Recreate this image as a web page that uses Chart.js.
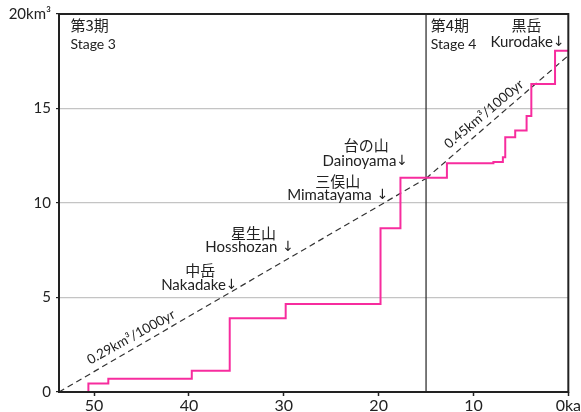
<!DOCTYPE html>
<html>
<head>
<meta charset="utf-8">
<script src="https://cdn.jsdelivr.net/npm/chart.js@4.4.1/dist/chart.umd.min.js"></script>
<style>
html, body { margin: 0; padding: 0; background: #fff; }
</style>
</head>
<body>
<canvas id="graphic" width="581" height="412"></canvas>
<script>
// cumulative erupted volume (km3) against age (ka)
const eruptionAges = [50.6, 50.6, 48.5, 39.7, 35.7, 29.8, 19.8, 17.7, 12.8, 7.9, 6.9, 6.65, 5.6, 4.4, 3.9, 1.4, 0];
const cumulativeVolume = [0, 0.45, 0.7, 1.13, 3.9, 4.66, 8.66, 11.34, 12.1, 12.17, 12.42, 13.48, 13.83, 14.6, 16.3, 18.06, 18.06];

// eruption rate lines
const stage3RateAges = [53.7, 15];
const stage3RateVolume = [0, 11.3];
const stage4RateAges = [15, 0];
const stage4RateVolume = [11.3, 17.8];

const stageBoundaryAge = 15;

const xTickValues = [50, 40, 30, 20, 10, 0];
const xTickLabels = ['50', '40', '30', '20', '10', '0ka'];
const yTickValues = [0, 5, 10, 15, 20];
const yTickLabels = ['0', '5', '10', '15', '20km³'];

const toPoints = (xs, ys) => xs.map((v, i) => ({ x: v, y: ys[i] }));

const jpFont = '15px "Noto Sans CJK JP"';
const enFont = '15px Lato';
const stageFont = '14px Lato';
const rateFont = '13.5px Lato';
const arrowFont = '14px "DejaVu Sans"';

/* texts placed in data coordinates (age, volume); arrow: gap before the ↓ */
const notes = [
  { text: '第3期', x: 52.5, y: 19.4, align: 'left', font: jpFont },
  { text: 'Stage 3', x: 52.5, y: 18.4, align: 'left', font: stageFont },
  { text: '第4期', x: 14.5, y: 19.4, align: 'left', font: jpFont },
  { text: 'Stage 4', x: 14.5, y: 18.4, align: 'left', font: stageFont },
  { text: '黒岳', x: 4.4, y: 19.4, align: 'center', font: jpFont },
  { text: 'Kurodake', x: 4.3, y: 18.5, align: 'center', font: enFont, arrow: 0 },
  { text: '台の山', x: 21.3, y: 13.07, align: 'center', font: jpFont },
  { text: 'Dainoyama', x: 21.4, y: 12.2, align: 'center', font: enFont, arrow: 0 },
  { text: '三俣山', x: 24.3, y: 11.16, align: 'center', font: jpFont },
  { text: 'Mimatayama', x: 24.3, y: 10.4, align: 'center', font: enFont, arrow: 5 },
  { text: '星生山', x: 33.2, y: 8.4, align: 'center', font: jpFont },
  { text: 'Hosshozan', x: 33.6, y: 7.67, align: 'center', font: enFont, arrow: 5 },
  { text: '中岳', x: 38.8, y: 6.46, align: 'center', font: jpFont },
  { text: 'Nakadake', x: 38.9, y: 5.66, align: 'center', font: enFont, arrow: 0 },
  { text: '0.29km³/1000yr', x: 46.1, y: 2.9, align: 'center', font: rateFont, rot: -29 },
  { text: '0.45km³/1000yr', x: 8.9, y: 14.7, align: 'center', font: rateFont, rot: -40 }
];

const overlay = {
  id: 'overlay',
  afterDatasetsDraw(chart) {
    const { ctx, chartArea: a, scales } = chart;
    ctx.save();
    ctx.strokeStyle = '#222';
    ctx.lineWidth = 2;
    ctx.strokeRect(a.left, a.top, a.right - a.left, a.bottom - a.top);
    ctx.fillStyle = '#222';
    ctx.textBaseline = 'middle';
    notes.forEach(n => {
      const px = scales.x.getPixelForValue(n.x);
      const py = scales.y.getPixelForValue(n.y);
      ctx.save();
      ctx.translate(px, py);
      if (n.rot) ctx.rotate(n.rot * Math.PI / 180);
      ctx.font = n.font;
      if (n.arrow === undefined) {
        ctx.textAlign = n.align;
        ctx.fillText(n.text, 0, 0);
      } else {
        const tw = ctx.measureText(n.text).width;
        ctx.font = arrowFont;
        const aw = ctx.measureText('↓').width;
        const start = -(tw + n.arrow + aw) / 2;
        ctx.textAlign = 'left';
        ctx.font = n.font;
        ctx.fillText(n.text, start, 0);
        ctx.font = arrowFont;
        ctx.fillText('↓', start + tw + n.arrow, 0);
      }
      ctx.restore();
    });
    ctx.restore();
  }
};

const data = {
  datasets: [
    {
      label: 'volume',
      data: toPoints(eruptionAges, cumulativeVolume),
      stepped: 'before',
      borderColor: '#f72c9e',
      borderWidth: 2,
      pointRadius: 0,
      fill: false
    },
    {
      label: 'rate3',
      data: toPoints(stage3RateAges, stage3RateVolume),
      borderColor: '#333',
      borderWidth: 1.2,
      borderDash: [6, 4],
      pointRadius: 0
    },
    {
      label: 'rate4',
      data: toPoints(stage4RateAges, stage4RateVolume),
      borderColor: '#333',
      borderWidth: 1.2,
      borderDash: [6, 4],
      pointRadius: 0
    },
    {
      label: 'boundary',
      data: toPoints([stageBoundaryAge, stageBoundaryAge], [0, 20]),
      borderColor: '#333',
      borderWidth: 1.3,
      pointRadius: 0
    }
  ]
};

const config = {
  type: 'line',
  data: data,
  options: {
    responsive: false,
    animation: false,
    layout: { padding: { top: 14, right: 11, left: 0, bottom: 0 } },
    plugins: { legend: { display: false }, tooltip: { enabled: false } },
    scales: {
      x: {
        type: 'linear',
        reverse: true,
        min: 0,
        max: 53.7,
        border: { display: false },
        grid: { drawOnChartArea: false, tickLength: 4, tickColor: '#222', tickWidth: 1.5 },
        afterBuildTicks: s => { s.ticks = xTickValues.map(v => ({ value: v })); },
        afterFit: s => { s.height = 20; },
        ticks: {
          padding: 0,
          color: '#222',
          font: { family: 'Lato', size: 16 },
          maxRotation: 0,
          callback: v => xTickLabels[xTickValues.indexOf(v)]
        }
      },
      y: {
        min: 0,
        max: 20,
        border: { display: false },
        grid: { color: '#c4c4c4', lineWidth: 1.2, tickLength: 3, tickColor: '#222' },
        afterBuildTicks: s => { s.ticks = yTickValues.map(v => ({ value: v })); },
        afterFit: s => { s.width = 59; },
        ticks: {
          padding: 5,
          color: '#222',
          font: { family: 'Lato', size: 15 },
          callback: v => yTickLabels[yTickValues.indexOf(v)]
        }
      }
    }
  },
  plugins: [overlay]
};

new Chart(document.querySelector('#graphic'), config);
</script>
</body>
</html>
